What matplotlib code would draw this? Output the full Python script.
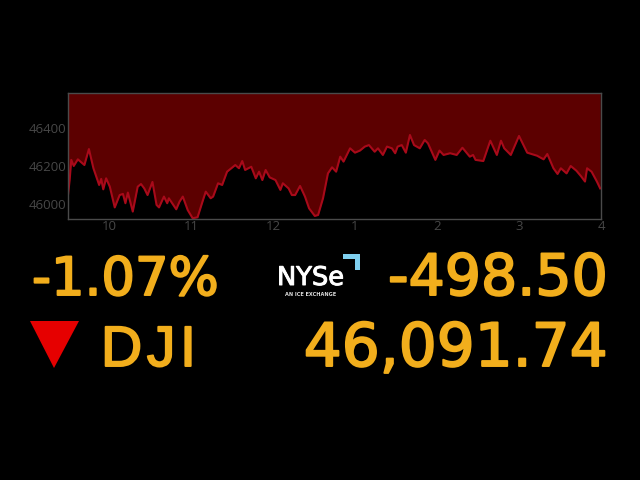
"""DJI intraday ticker card: price chart on top, quote text below."""
import matplotlib
matplotlib.use("Agg")
import matplotlib.pyplot as plt
import matplotlib.patheffects as pe
from matplotlib.patches import Polygon

times = [9.50, 9.52, 9.54, 9.57, 9.62, 9.70, 9.755, 9.81, 9.88, 9.905, 9.93, 9.965,
         10.01, 10.07, 10.13, 10.17, 10.20, 10.23, 10.29, 10.35, 10.39, 10.43, 10.47,
         10.53, 10.58, 10.61, 10.67, 10.71, 10.73, 10.82, 10.86, 10.90, 10.96,
         11.02, 11.08, 11.14, 11.18, 11.24, 11.27, 11.33, 11.38, 11.44, 11.54, 11.585,
         11.625, 11.66, 11.735, 11.79, 11.83, 11.87, 11.91, 11.96,
         12.03, 12.09, 12.12, 12.19, 12.23, 12.27, 12.33, 12.39, 12.44, 12.51, 12.55,
         12.61, 12.67, 12.72, 12.77, 12.82, 12.86, 12.94,
         13.00, 13.06, 13.12, 13.17, 13.24, 13.28, 13.34, 13.39, 13.45, 13.49, 13.52,
         13.57, 13.62, 13.67, 13.72, 13.79, 13.85, 13.89, 13.98,
         14.03, 14.08, 14.16, 14.24, 14.31, 14.40, 14.44, 14.47, 14.565, 14.65, 14.73,
         14.78, 14.82, 14.90,
         15.00, 15.10, 15.22, 15.30, 15.345, 15.42, 15.47, 15.51, 15.58, 15.63, 15.70,
         15.76, 15.805, 15.83, 15.885, 15.95, 15.99]
prices = [46047, 46126, 46232, 46200, 46235, 46205, 46289, 46188, 46100, 46132, 46077, 46135,
          46091, 45982, 46047, 46053, 46004, 46060, 45960, 46091, 46105, 46082, 46047,
          46116, 45995, 45982, 46039, 46004, 46030, 45972, 46012, 46039, 45968,
          45925, 45930, 46012, 46065, 46030, 46039, 46109, 46100, 46170, 46205, 46188,
          46226, 46179, 46196, 46135, 46170, 46126, 46179, 46140,
          46126, 46074, 46109, 46082, 46047, 46047, 46095, 46039, 45977, 45937, 45942,
          46030, 46161, 46193, 46170, 46249, 46223, 46293,
          46270, 46281, 46302, 46310, 46275, 46293, 46258, 46302, 46293, 46267, 46302,
          46310, 46270, 46363, 46310, 46293, 46337, 46319, 46232,
          46281, 46258, 46267, 46258, 46296, 46249, 46258, 46232, 46226, 46333, 46258,
          46333, 46293, 46258,
          46358, 46270, 46254, 46235, 46263, 46188, 46158, 46188, 46161, 46200, 46175,
          46144, 46118, 46188, 46170, 46118, 46082]

hour_ticks = [10, 11, 12, 13, 14, 15, 16]
hour_labels = ["10", "11", "12", "1", "2", "3", "4"]
price_ticks = [46000, 46200, 46400]

pct_change = "-1.07%"
pt_change = "-498.50"
index_name = "DJI"
last_price = "46,091.74"

GOLD = "#f2ae1c"
W, H = 640, 480
YMIN, YMAX = 45921, 46584

fig = plt.figure(figsize=(6.4, 4.8), dpi=100, facecolor="black")

# price panel
ax = fig.add_axes([68 / W, 1 - 219 / H, (601 - 68) / W, (219 - 93) / H], facecolor="black")
ax.fill_between(times, prices, YMAX, color="#5c0000", lw=0)
ax.plot(times, prices, color="#a80a1a", lw=1.5)
ax.set_xlim(9.5, 16)
ax.set_ylim(YMIN, YMAX)
ax.set_xticks(hour_ticks, hour_labels)
ax.set_yticks(price_ticks, [str(p) for p in price_ticks])
ax.tick_params(length=0, labelsize=9.5, labelcolor="#474747", pad=1)
for lab in ax.get_xticklabels() + ax.get_yticklabels():
    lab.set_family("Open Sans")
for s in ax.spines.values():
    s.set_color("#4a4a4a")
    s.set_linewidth(1)

# overlay in pixel coordinates for the quote block and logo
ov = fig.add_axes([0, 0, 1, 1], facecolor="none")
ov.set_xlim(0, W)
ov.set_ylim(H, 0)
ov.axis("off")

# no wide medium face installed, so thicken DejaVu with a stroke
thick = [pe.withStroke(linewidth=1.4, foreground=GOLD)]
big = dict(family="DejaVu Sans", color=GOLD, va="baseline", path_effects=thick)
ov.text(32, 295, pct_change, ha="left", fontsize=38, **big)
ov.text(608, 295, pt_change, ha="right", fontsize=41, **big)
ov.text(608, 366, last_price, ha="right", fontsize=43, **big)
# DejaVu's J drops below the baseline, Liberation's does not
ov.text(101, 366, "\u200a".join(index_name), ha="left", fontsize=41, color=GOLD, va="baseline",
        family=["Liberation Sans", "DejaVu Sans"], path_effects=thick)

ov.add_patch(Polygon([(30, 321), (79, 321), (54, 368)], color="#e60000", lw=0))

ov.text(277, 285, "NYSe", family="DejaVu Sans", color="white", fontsize=18.5, ha="left",
        va="baseline", path_effects=[pe.withStroke(linewidth=0.7, foreground="white")])
ov.text(285, 296, "AN ICE EXCHANGE", family="DejaVu Sans", weight="bold", color="#dddddd",
        fontsize=3.6, ha="left", va="baseline")
ov.add_patch(Polygon([(343, 254), (360, 254), (360, 270), (355, 270), (355, 259), (343, 259)],
                     color="#7fd0f0", lw=0))

fig.savefig("out.png", dpi=100, facecolor="black")
